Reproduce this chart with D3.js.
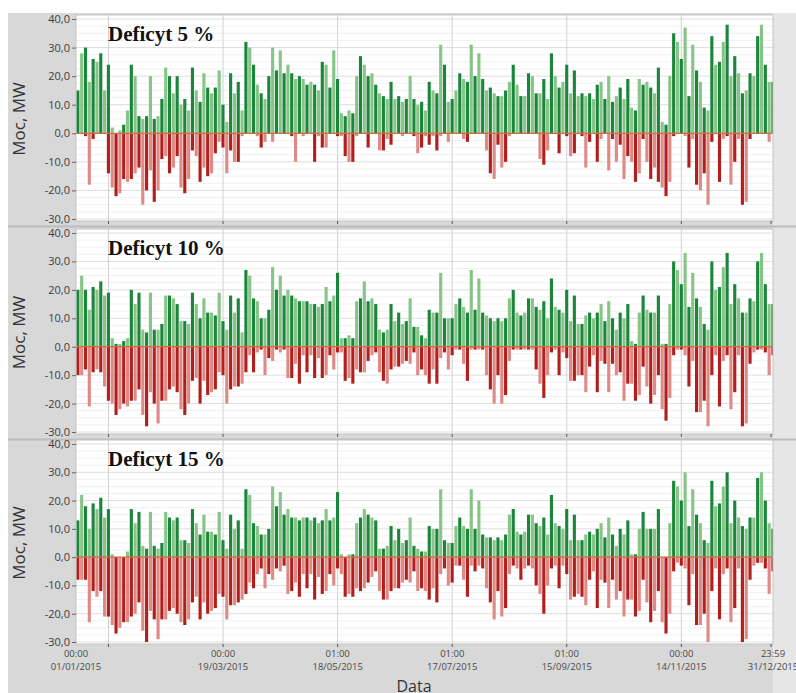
<!DOCTYPE html>
<html>
<head>
<meta charset="utf-8">
<script src="https://cdn.jsdelivr.net/npm/d3@7/dist/d3.min.js"></script>
<style>
  body { margin: 0; background: #fff; }
  text { font-family: "Open Sans", "Noto Sans", sans-serif; }
</style>
</head>
<body>
<div class="canvas"></div>
<script>
// 2-day bins, 01/01/2015 .. 31/12/2015, peak surplus / deficit (MW)
const pos5 = [15,28,30,18,26,25,28,15,24,2, 0,1,3,8,24,20,6,5,6,20, 5,6,12,23,20,14,20,10,12,8,
  23,15,11,21,16,14,16,22,10,4, 21,14,18,8,32,30,24,17,14,12, 20,30,22,29,21,24,21,19,20,19,
  17,18,17,15,25,24,16,29,19,7, 6,8,7,20,27,24,20,21,17,14, 13,12,18,12,13,11,12,20,12,10, 11,8,
  18,15,14,31,24,11,12,15,21,19, 18,31,20,28,19,15,16,14,13,13, 15,18,24,17,13,13,21,20,14,14,
  19,12,28,20,16,18,24,14,22,13, 14,13,14,12,17,18,12,20,11,13, 16,12,19,9,8,19,17,18,16,14,
  23,4,3,20,35,32,26,37,13,31, 22,18,9,8,34,24,25,32,38,20, 27,21,14,15,21,20,34,38,24,18,18];
const neg5 = [0,0,-1,-18,-2,0,0,0,-14,-19, -22,-21,-16,-17,-16,-14,-12,-25,-20,-13, -24,-20,-9,-8,-14,-12,-8,-19,-21,-16,
  -6,-8,-17,-12,-15,-14,-7,-3,-5,-14, -6,-10,-10,-1,0,0,0,-1,-5,-3, 0,-3,0,0,0,0,-1,-10,0,-1,
  0,0,-10,-1,-5,-5,0,0,-1,-1, -8,-10,-10,-1,0,0,-5,0,0,-6, -6,-2,-4,0,0,-1,0,0,-1,-7, -5,-1,
  -4,-1,-6,-1,0,-3,0,0,0,-2, -3,0,0,0,0,-6,-14,-16,-4,-12, -10,-1,0,0,0,0,0,0,0,-9,
  -11,-6,0,0,-7,0,-1,-8,-7,0, -1,-12,-3,0,-10,-2,0,-13,-2,-10, -4,-16,-8,-10,-17,-14,-2,-10,-16,-12,
  -17,-19,-22,-17,-1,0,0,-1,-12,-2, -18,-20,-14,-25,-3,0,-17,-2,-1,-18, -10,-2,-25,-24,-2,0,0,0,0,-3,0];

const pos10 = [20,25,20,13,21,20,23,18,19,3, 1,1,2,3,20,15,19,6,5,19, 6,6,8,18,18,17,15,9,9,8,
  19,15,10,17,12,12,11,19,9,6, 18,12,17,5,27,25,17,16,10,10, 13,28,20,25,18,20,18,17,16,16,
  16,15,15,14,15,21,16,18,26,3, 3,4,3,16,17,23,16,17,15,6, 5,6,15,9,12,8,9,17,7,7, 4,3,
  13,12,12,26,10,10,10,15,17,14, 12,27,13,24,12,11,10,9,10,9, 10,17,20,12,11,12,17,17,14,13,
  16,10,24,14,13,12,20,9,18,8, 8,11,12,10,12,15,9,16,10,6, 12,10,15,2,1,12,18,13,12,12,
  18,1,1,15,30,27,22,33,14,26, 17,14,8,6,30,20,21,28,33,15, 22,17,12,12,17,16,30,33,22,15,15];
const neg10 = [-10,-10,-8,-21,-9,-8,-9,-14,-19,-20, -24,-22,-20,-21,-19,-19,-15,-24,-28,-16, -20,-27,-19,-19,-15,-14,-16,-22,-24,-20,
  -12,-11,-20,-12,-17,-16,-15,-9,-10,-20, -15,-14,-14,-13,-9,-3,-9,-2,-1,-10, -4,-5,-1,-2,-1,-11,-11,-6,-13,-3,
  -9,-3,-11,-4,-11,-10,-3,-8,-2,-2, -12,-11,-13,-8,-9,-9,-5,-3,-2,-9, -12,-13,-8,-7,-7,-6,-5,-6,-2,-10, -8,-10,
  -13,-8,-13,-4,-2,-8,-3,-1,-1,-6, -12,-1,-1,-1,-1,-10,-15,-20,-10,-20, -17,-5,-1,-1,-1,-1,-1,-1,-8,-13,
  -18,-10,-2,-1,-10,-2,-4,-12,-12,-10, -10,-16,-7,-3,-16,-5,-6,-16,-6,-10, -9,-19,-13,-13,-19,-17,-7,-14,-20,-17,
  -10,-22,-26,-18,-3,-1,-1,-3,-14,-5, -23,-23,-19,-28,-10,-3,-21,-5,-3,-22, -16,-3,-28,-27,-6,-2,-1,-1,-2,-10,-3];

const pos15 = [13,22,18,10,19,17,21,14,17,1, 0,0,0,2,17,12,16,4,3,16, 4,3,5,16,14,13,14,6,6,5,
  17,12,8,15,9,9,8,16,6,3, 15,10,13,3,24,22,12,11,8,8, 10,25,18,23,15,17,14,14,13,14,
  14,13,14,12,13,17,13,14,23,1, 0,1,1,12,14,17,15,14,13,3, 3,4,11,6,10,5,6,14,4,3, 2,2,
  11,10,10,24,6,5,5,11,14,11, 10,24,10,20,8,7,7,6,7,6, 8,15,17,9,8,9,15,15,12,11,
  14,8,22,12,11,10,17,6,15,6, 6,8,9,8,10,12,7,14,8,4, 10,8,13,1,1,10,16,10,10,10,
  17,0,0,12,27,25,20,30,11,24, 15,12,6,5,27,18,19,25,30,12, 20,14,11,10,14,14,28,30,20,12,10];
const neg15 = [-8,-8,-8,-23,-12,-14,-12,-21,-21,-24, -27,-25,-23,-23,-21,-20,-16,-26,-30,-19, -22,-29,-22,-22,-19,-18,-20,-23,-24,-22,
  -16,-14,-22,-16,-20,-19,-18,-13,-14,-22, -17,-17,-16,-15,-13,-9,-11,-6,-4,-11, -6,-8,-4,-5,-3,-13,-12,-9,-14,-6,
  -11,-6,-15,-7,-13,-12,-6,-10,-4,-6, -14,-13,-14,-11,-12,-11,-9,-7,-5,-12, -15,-15,-12,-11,-11,-9,-8,-9,-5,-12, -11,-12,
  -15,-11,-16,-6,-4,-10,-9,-3,-3,-8, -14,-3,-5,-3,-4,-11,-16,-22,-12,-21, -18,-6,-3,-4,-8,-4,-3,-4,-10,-13,
  -20,-10,-4,-3,-11,-3,-6,-15,-14,-13, -14,-17,-8,-5,-18,-8,-9,-18,-8,-15, -12,-21,-15,-15,-21,-19,-8,-16,-23,-19,
  -12,-23,-27,-20,-5,-2,-3,-4,-17,-6, -24,-24,-20,-30,-12,-4,-22,-6,-4,-23, -18,-4,-30,-29,-8,-3,-2,-2,-4,-13,-5];

const titles = ["Deficyt 5 %", "Deficyt 10 %", "Deficyt 15 %"];
const yTicks = [-30, -20, -10, 0, 10, 20, 30, 40];
const gridDates = ["2015-01-18", "2015-03-19", "2015-05-18", "2015-07-17", "2015-09-15", "2015-11-14"];
const tickDates = ["2015-01-01 00:00", "2015-03-19 00:00", "2015-05-18 01:00", "2015-07-17 01:00",
  "2015-09-15 01:00", "2015-11-14 00:00", "2015-12-31 23:59"];

const width = 796, height = 693,
    left = 76, right = 773,
    panelTop = [19, 233, 444],     // y of 40,0
    panelBottom = [219, 432, 642]; // y of -30,0

const parse = d3.timeParse("%Y-%m-%d %H:%M"),
    parseDay = d3.timeParse("%Y-%m-%d"),
    start = new Date(2015, 0, 1),
    end = new Date(2015, 11, 31, 23, 59);

const svg = d3.select('.canvas').append("svg")
    .attr('width', width)
    .attr('height', height);

const x = d3.scaleTime().domain([start, end]).range([left, right]);
const binDate = i => d3.timeDay.offset(start, i * 2);

// frame
svg.append('rect').attr('x', 8).attr('y', 13).attr('width', width - 8).attr('height', height - 13).attr('fill', '#d8d8d8');
svg.append('rect').attr('x', right).attr('y', 13).attr('width', width - right).attr('height', height - 13).attr('fill', '#e6e6e6');

const fmt = d => d3.format('.1f')(d).replace('.', ',').replace('\u2212', '-');

const panels = [[pos5, neg5], [pos10, neg10], [pos15, neg15]];

panels.forEach(([pos, neg], p) => {
    const y = d3.scaleLinear().domain([-30, 40]).range([panelBottom[p], panelTop[p]]);
    const top = panelTop[p] - 4, bottom = panelBottom[p] + 2;
    const g = svg.append('g');

    g.append('rect').attr('x', left).attr('y', top).attr('width', right - left).attr('height', bottom - top)
        .attr('fill', '#fff');

    g.append('clipPath').attr('id', 'clip' + p).append('rect')
        .attr('x', left).attr('y', top).attr('width', right - left).attr('height', bottom - top);

    // gridlines
    g.selectAll('.minor').data(d3.range(-30, 40.1, 2.5)).join('line')
        .attr('x1', left).attr('x2', right).attr('y1', d => y(d)).attr('y2', d => y(d))
        .attr('stroke', d => d % 10 === 0 ? '#dedede' : '#f1f1f1').attr('stroke-width', 1);
    g.selectAll('.vgrid').data(gridDates).join('line')
        .attr('x1', d => x(parseDay(d))).attr('x2', d => x(parseDay(d)))
        .attr('y1', top).attr('y2', bottom)
        .attr('stroke', '#d2d2d2');

    const bars = g.append('g').attr('clip-path', `url(#clip${p})`);
    const bw = x(binDate(1)) - x(binDate(0));

    bars.selectAll('.pos').data(pos).join('rect')
        .attr('x', (d, i) => x(binDate(i)) + 0.3)
        .attr('width', bw - 0.7)
        .attr('y', d => y(d))
        .attr('height', d => y(0) - y(d))
        .attr('fill', (d, i) => i % 2 ? '#86c487' : '#1b863b');

    bars.selectAll('.neg').data(neg).join('rect')
        .attr('x', (d, i) => x(binDate(i)) + 0.3)
        .attr('width', bw - 0.7)
        .attr('y', y(0))
        .attr('height', d => y(d) - y(0))
        .attr('fill', (d, i) => i % 2 ? '#de8a86' : '#b01f1c');

    g.append('line').attr('x1', left).attr('x2', right).attr('y1', y(0)).attr('y2', y(0))
        .attr('stroke', '#d7693f').attr('stroke-width', 1.2);

    // plot border
    g.append('rect').attr('x', left).attr('y', top).attr('width', right - left).attr('height', bottom - top)
        .attr('fill', 'none').attr('stroke', '#c4c4c4');

    // y axis
    const ya = g.append('g').attr('transform', `translate(${left},0)`)
        .call(d3.axisLeft(y).tickValues(yTicks).tickFormat(fmt).tickSize(4).tickPadding(2));
    ya.select('.domain').remove();
    ya.selectAll('line').attr('stroke', '#666');
    ya.selectAll('text').attr('fill', '#3c3c3c').style('font-size', '11px');

    g.append('text')
        .attr('transform', `translate(25,${(panelTop[p] + panelBottom[p]) / 2}) rotate(-90)`)
        .attr('text-anchor', 'middle')
        .attr('fill', '#333')
        .style('font-size', '17px')
        .text('Moc, MW');

    g.append('text')
        .attr('x', 108).attr('y', panelTop[p] + 22)
        .style('font-family', '"Liberation Serif", "Times New Roman", serif')
        .style('font-weight', 'bold')
        .style('font-size', '21px')
        .attr('fill', '#111')
        .text(titles[p]);

    // tick marks on the strip below each panel
    g.selectAll('.tk').data(gridDates.concat(['2015-12-31'])).join('line')
        .attr('x1', d => x(parseDay(d))).attr('x2', d => x(parseDay(d)))
        .attr('y1', bottom).attr('y2', bottom + 3)
        .attr('stroke', '#555');

    if (p < 2) {
        svg.append('line').attr('x1', 8).attr('x2', width).attr('y1', bottom + 5.5).attr('y2', bottom + 5.5)
            .attr('stroke', '#bcbcbc').attr('stroke-width', 2);
    }
});

// bottom date labels, two lines each
const xl = svg.append('g').attr('fill', '#4a4a4a').attr('text-anchor', 'middle').style('font-size', '9.5px');
xl.selectAll('.hh').data(tickDates).join('text')
    .attr('x', d => x(parse(d))).attr('y', 657)
    .text(d => d3.timeFormat('%H:%M')(parse(d)));
xl.selectAll('.dd').data(tickDates).join('text')
    .attr('x', d => x(parse(d))).attr('y', 670)
    .text(d => d3.timeFormat('%d/%m/%Y')(parse(d)));

svg.append('text')
    .attr('x', 414).attr('y', 692)
    .attr('text-anchor', 'middle')
    .attr('fill', '#333')
    .style('font-size', '16px')
    .text('Data');
</script>
</body>
</html>
